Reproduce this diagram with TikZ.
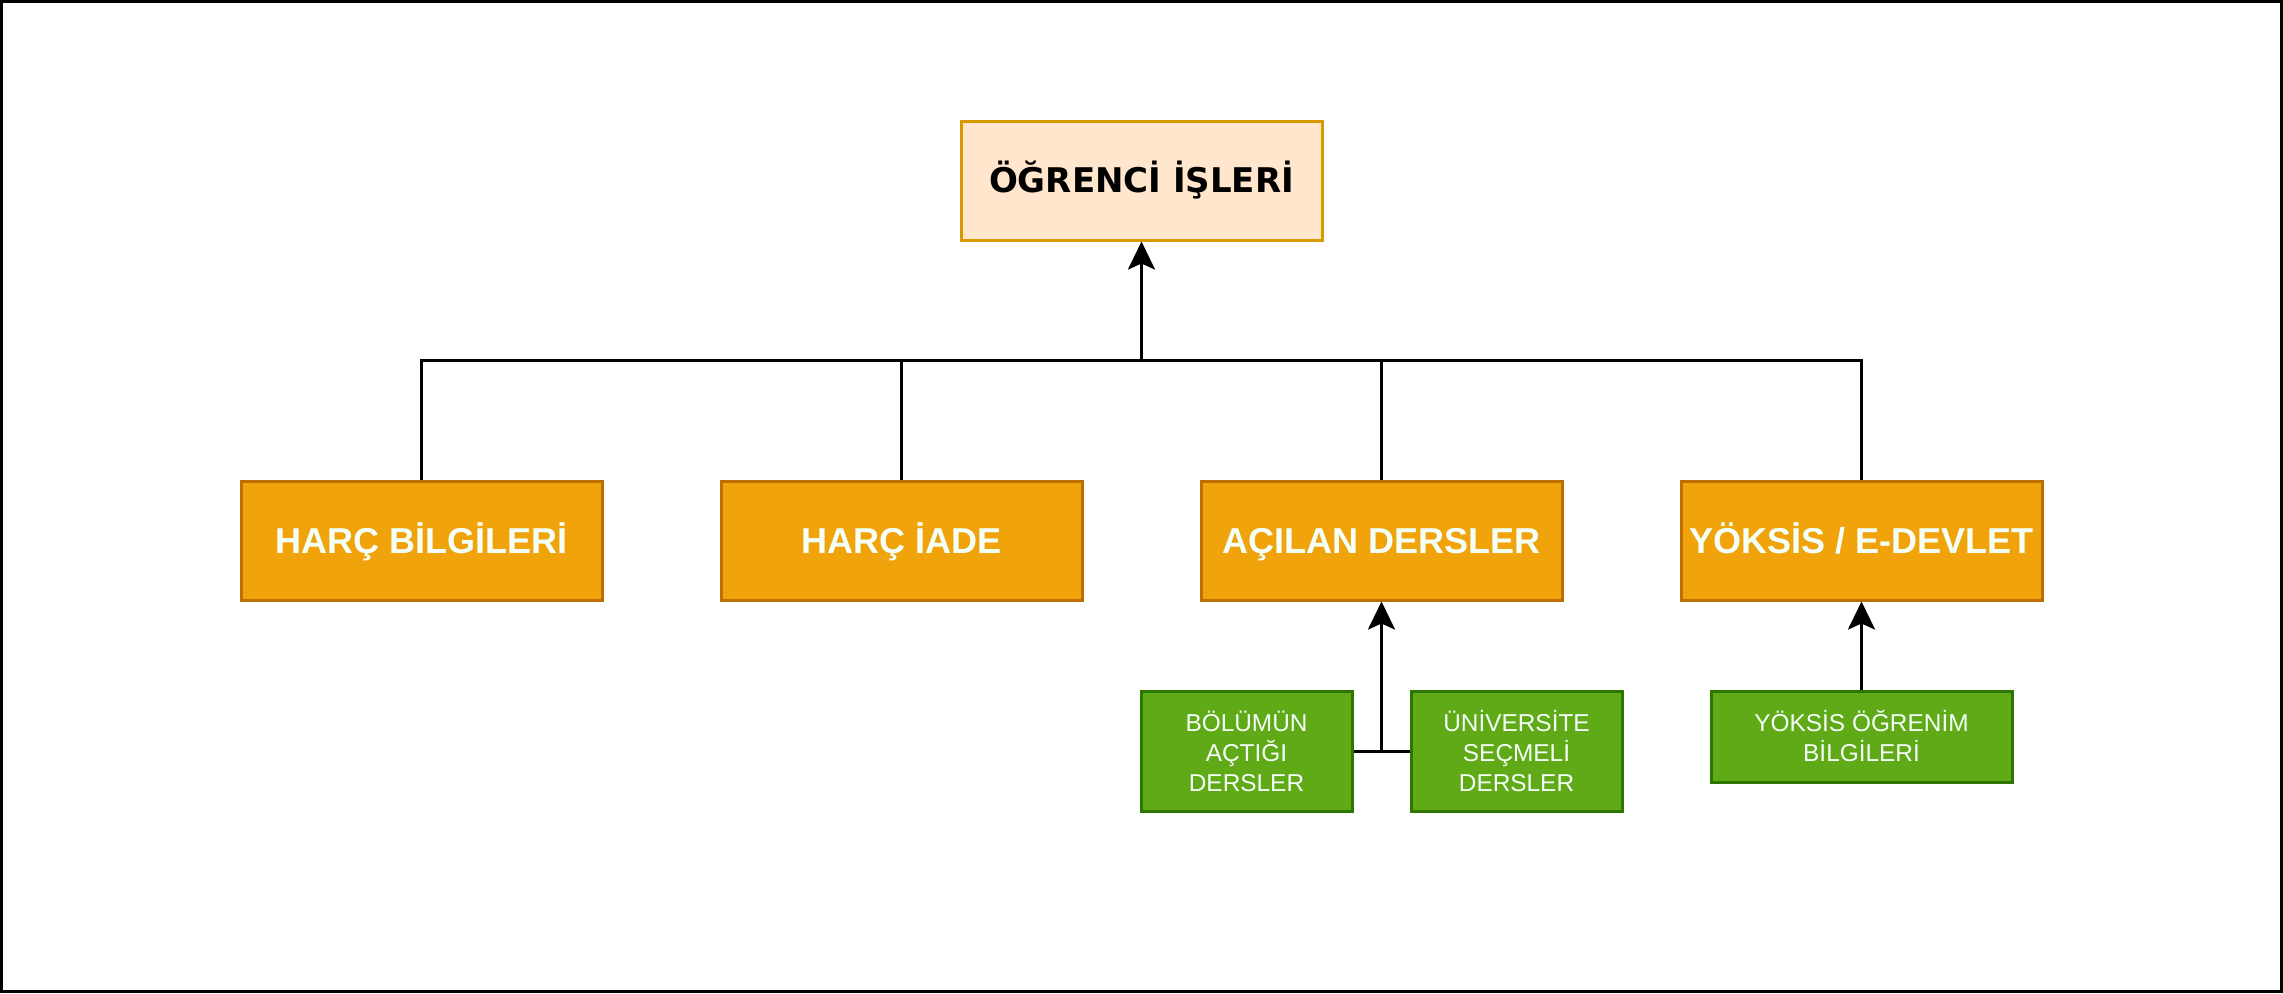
\documentclass[tikz,border=0pt]{standalone}
\usepackage{fontspec}
\setmainfont{Liberation Sans}
\newfontfamily\titlefont{DejaVu Sans}
\usetikzlibrary{arrows.meta}
\definecolor{topfill}{HTML}{FFE6CC}
\definecolor{topline}{HTML}{D79B00}
\definecolor{orfill}{HTML}{F0A30A}
\definecolor{orline}{HTML}{BD7000}
\definecolor{grfill}{HTML}{60A917}
\definecolor{grline}{HTML}{2D7600}
\definecolor{txtw}{HTML}{F4FFF8}
\tikzset{
  px/.style={x=0.5pt,y=-0.5pt},
  topbox/.style={draw=topline,fill=topfill,line width=1.5pt,minimum width=180.5pt,minimum height=59.5pt,inner sep=0pt,font=\titlefont\bfseries\fontsize{17}{20}\selectfont,text=black,text height=12.4pt,text depth=0pt},
  orbox/.style={draw=orline,fill=orfill,line width=1.5pt,minimum width=180.5pt,minimum height=59.5pt,inner sep=0pt,font=\bfseries\fontsize{18}{21}\selectfont,text=txtw,text height=13pt,text depth=0pt},
  grbox/.style={draw=grline,fill=grfill,line width=1.5pt,inner sep=0pt,font=\fontsize{12.2}{15}\selectfont,text=txtw,align=center},
  conn/.style={line width=1.5pt,black},
  arr/.style={conn,-{Stealth[length=14pt,width=13.5pt,inset=3pt]}}
}
\begin{document}
\begin{tikzpicture}[px]
\useasboundingbox (0,0) rectangle (2283,993);
\draw[line width=1.5pt] (1.5,1.5) rectangle (2281.5,991.5);
\node[topbox] (top) at (1141.5,180.5) {ÖĞRENCİ İŞLERİ};
\node[orbox] (b1) at (421.5,540.5) {HARÇ BİLGİLERİ};
\node[orbox] (b2) at (901.5,540.5) {HARÇ İADE};
\node[orbox] (b3) at (1381.5,540.5) {AÇILAN DERSLER};
\node[orbox] (b4) at (1861.5,540.5) {YÖKSİS / E-DEVLET};
\node[grbox,minimum width=105.5pt,minimum height=60pt] (g1) at (1246.5,751) {BÖLÜMÜN\\AÇTIĞI\\DERSLER};
\node[grbox,minimum width=105.5pt,minimum height=60pt] (g2) at (1516.5,751) {ÜNİVERSİTE\\SEÇMELİ\\DERSLER};
\node[grbox,minimum width=150.5pt,minimum height=45.5pt] (g3) at (1861.5,736.5) {YÖKSİS ÖĞRENİM\\BİLGİLERİ};
\coordinate (bus) at (1141.5,360);
\draw[conn] (b1.north) |- (bus);
\draw[conn] (b2.north) |- (bus);
\draw[conn] (b3.north) |- (bus);
\draw[conn] (b4.north) |- (bus);
\draw[arr] (bus) -- (top.south);
\draw[conn] (g1.east) -- (g2.west);
\draw[arr] (g1.east -| b3.south) -- (b3.south);
\draw[arr] (g3.north) -- (b4.south);
\end{tikzpicture}
\end{document}
